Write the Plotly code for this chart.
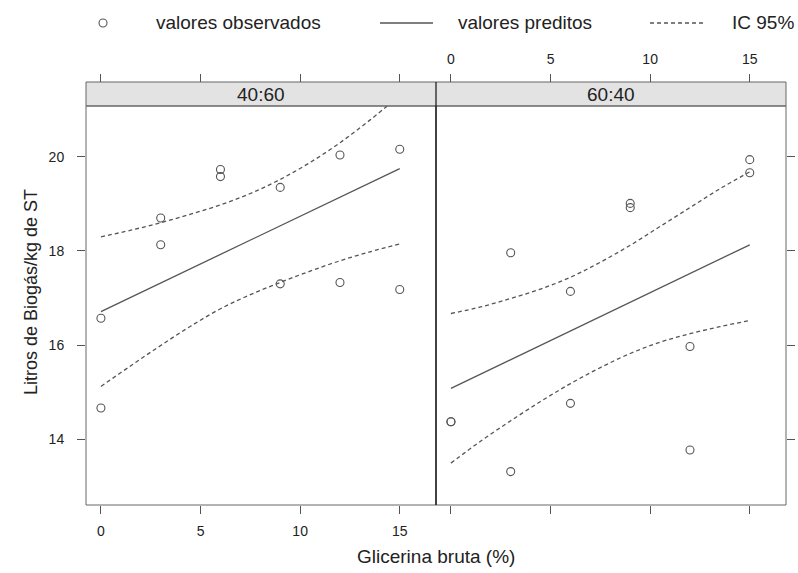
import plotly.graph_objects as go

# ---------------- data ----------------
panels = ["40:60", "60:40"]
x_obs = [0, 0, 3, 3, 6, 6, 9, 9, 12, 12, 15, 15]
obs_4060 = [16.57, 14.66, 18.70, 18.13, 19.73, 19.58, 19.35, 17.30, 20.04, 17.33, 20.16, 17.18]
obs_6040 = [14.37, 14.37, 17.96, 13.31, 17.14, 14.76, 19.01, 18.92, 15.97, 13.77, 19.94, 19.66]

x_fit = [0, 15]
fit_4060 = [16.71, 19.75]
fit_6040 = [15.08, 18.13]

x_ci = [0, 1.5, 3, 4.5, 6, 7.5, 9, 10.5, 12, 13.5, 15]
upper_4060 = [18.30, 18.44, 18.60, 18.78, 18.98, 19.22, 19.52, 19.88, 20.30, 20.78, 21.30]
lower_4060 = [15.12, 15.56, 15.99, 16.40, 16.77, 17.07, 17.33, 17.57, 17.79, 17.98, 18.15]
upper_6040 = [16.67, 16.81, 16.99, 17.19, 17.44, 17.76, 18.12, 18.52, 18.92, 19.32, 19.68]
lower_6040 = [13.49, 13.96, 14.39, 14.80, 15.18, 15.52, 15.82, 16.06, 16.24, 16.39, 16.52]

x_ticks = [0, 5, 10, 15]
y_ticks = [14, 16, 18, 20]
legend_labels = ["valores observados", "valores preditos", "IC 95%"]
x_title = "Glicerina bruta (%)"
y_title = "Litros de Biogás/kg de ST"

# ---------------- layout helpers ----------------
W, H = 798, 573
FONT = "Liberation Sans, Arial, sans-serif"
INK = "#555555"
TXT = "#222222"

def fx(px):
    return px / W

def fy(py):
    return 1 - py / H

P_LEFT, P_MID, P_RIGHT = 86, 436, 786
P_TOP, P_BOT = 106, 505
S_TOP = 82
XR = [-0.75, 16.82]
YR = [12.6, 21.08]

fig = go.Figure()

series = [
    (obs_4060, fit_4060, upper_4060, lower_4060, "x", "y"),
    (obs_6040, fit_6040, upper_6040, lower_6040, "x2", "y2"),
]
for obs, fit, up, lo, xa, ya in series:
    fig.add_trace(go.Scatter(x=x_obs, y=obs, mode="markers", xaxis=xa, yaxis=ya,
                             marker=dict(symbol="circle-open", size=8, color=INK,
                                         line=dict(width=1.1, color=INK)),
                             showlegend=False, hoverinfo="skip"))
    fig.add_trace(go.Scatter(x=x_fit, y=fit, mode="lines", xaxis=xa, yaxis=ya,
                             line=dict(color=INK, width=1.3), showlegend=False, hoverinfo="skip"))
    for band in (up, lo):
        fig.add_trace(go.Scatter(x=x_ci, y=band, mode="lines", xaxis=xa, yaxis=ya,
                                 line=dict(color=INK, width=1.3, dash="4px,3px", shape="spline"),
                                 showlegend=False, hoverinfo="skip"))

# empty traces so the top axes are drawn
fig.add_trace(go.Scatter(x=[], y=[], xaxis="x3", yaxis="y", showlegend=False, hoverinfo="skip"))
fig.add_trace(go.Scatter(x=[], y=[], xaxis="x4", yaxis="y2", showlegend=False, hoverinfo="skip"))

tickfont = dict(family=FONT, size=14, color=TXT)
common_x = dict(range=XR, tickvals=x_ticks, ticks="outside", ticklen=8, tickwidth=1,
                tickcolor=INK, showgrid=False, zeroline=False, showline=False, tickfont=tickfont)
common_y = dict(range=YR, domain=[fy(P_BOT), fy(P_TOP)], tickvals=y_ticks, ticks="outside",
                ticklen=8, tickwidth=1, tickcolor=INK, showgrid=False, zeroline=False,
                showline=False, tickfont=tickfont)

fig.update_layout(
    width=W, height=H,
    margin=dict(l=0, r=0, t=0, b=0, autoexpand=False),
    paper_bgcolor="white", plot_bgcolor="white",
    showlegend=False,
    xaxis=dict(domain=[fx(P_LEFT), fx(P_MID)], anchor="y", ticklabelstandoff=5, **common_x),
    xaxis2=dict(domain=[fx(P_MID), fx(P_RIGHT)], anchor="y2", showticklabels=False, **common_x),
    xaxis3=dict(overlaying="x", anchor="free", position=fy(S_TOP), side="top",
                domain=[fx(P_LEFT), fx(P_MID)], showticklabels=False, **common_x),
    xaxis4=dict(overlaying="x2", anchor="free", position=fy(S_TOP), side="top",
                domain=[fx(P_MID), fx(P_RIGHT)], ticklabelstandoff=4, **common_x),
    yaxis=dict(anchor="x", ticklabelstandoff=10, **common_y),
    yaxis2=dict(anchor="x2", side="right", showticklabels=False, **common_y),
)

shapes = []
# strip
shapes.append(dict(type="rect", xref="paper", yref="paper", x0=fx(P_LEFT), x1=fx(P_RIGHT),
                   y0=fy(P_TOP), y1=fy(S_TOP), fillcolor="#e3e3e3",
                   line=dict(color="#666666", width=1), layer="below"))
# panel borders
for x0, x1 in [(P_LEFT, P_MID), (P_MID, P_RIGHT)]:
    shapes.append(dict(type="rect", xref="paper", yref="paper", x0=fx(x0), x1=fx(x1),
                       y0=fy(P_BOT), y1=fy(P_TOP), line=dict(color="#666666", width=1)))
# divider
shapes.append(dict(type="line", xref="paper", yref="paper", x0=fx(P_MID), x1=fx(P_MID),
                   y0=fy(P_BOT), y1=fy(S_TOP), line=dict(color="#111111", width=1.2)))

# legend keys
LY = 23
shapes.append(dict(type="circle", xref="paper", yref="paper", x0=fx(99), x1=fx(107),
                   y0=fy(LY + 4), y1=fy(LY - 4), line=dict(color=INK, width=1.1)))
shapes.append(dict(type="line", xref="paper", yref="paper", x0=fx(380), x1=fx(433),
                   y0=fy(LY), y1=fy(LY), line=dict(color=INK, width=1.3)))
shapes.append(dict(type="line", xref="paper", yref="paper", x0=fx(650), x1=fx(703),
                   y0=fy(LY), y1=fy(LY), line=dict(color=INK, width=1.3, dash="4px,3px")))
fig.update_layout(shapes=shapes)

ann = []
bigfont = dict(family=FONT, size=19, color=TXT)
for lab, xs in zip(legend_labels, [154, 456, 730]):
    ann.append(dict(text=lab, x=fx(xs), y=fy(LY), xref="paper", yref="paper",
                    xanchor="left", yanchor="middle", showarrow=False, font=bigfont))
for lab, (x0, x1) in zip(panels, [(P_LEFT, P_MID), (P_MID, P_RIGHT)]):
    ann.append(dict(text=lab, x=fx((x0 + x1) / 2), y=fy((S_TOP + P_TOP) / 2 + 1),
                    xref="paper", yref="paper", xanchor="center", yanchor="middle",
                    showarrow=False, font=dict(family=FONT, size=19, color=TXT)))
ann.append(dict(text=x_title, x=fx((P_LEFT + P_RIGHT) / 2), y=fy(556), xref="paper",
                yref="paper", xanchor="center", yanchor="middle", showarrow=False, font=bigfont))
ann.append(dict(text=y_title, x=fx(31), y=fy(292), xref="paper", yref="paper",
                xanchor="center", yanchor="middle", textangle=-90, showarrow=False,
                font=dict(family=FONT, size=18, color=TXT)))
fig.update_layout(annotations=ann)

fig.write_html("out.html", config={"displayModeBar": False},
               post_script="document.body.style.margin='0px';")
